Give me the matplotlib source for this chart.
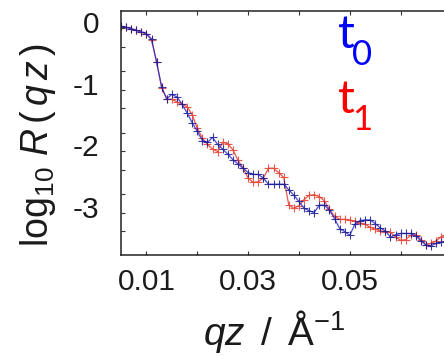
import numpy as np
import matplotlib
matplotlib.use('Agg')
import matplotlib.pyplot as plt
from matplotlib.transforms import ScaledTranslation

plt.rcParams['font.family'] = ['Liberation Sans', 'DejaVu Sans']
plt.rcParams['mathtext.fontset'] = 'custom'
plt.rcParams['mathtext.rm'] = 'Liberation Sans'
plt.rcParams['mathtext.it'] = 'Liberation Sans:italic'

# momentum transfer grid (1/A)
qz = np.round(np.arange(0.005, 0.0695, 0.001), 4)

# log10 reflectivity, first measurement
logR_t0 = [0.03, 0.01, -0.01, -0.04, -0.06, -0.09, -0.18, -0.55, -0.96, -1.15,
           -1.08, -1.12, -1.24, -1.38, -1.54, -1.68, -1.83, -1.86, -1.78, -1.89,
           -1.97, -2.05, -2.14, -2.21, -2.28, -2.35, -2.38, -2.38, -2.44, -2.54,
           -2.54, -2.54, -2.54, -2.63, -2.72, -2.82, -2.93, -2.97, -3.00, -2.88,
           -2.88, -2.96, -3.10, -3.26, -3.31, -3.37, -3.19, -3.13, -3.12, -3.12,
           -3.18, -3.25, -3.30, -3.40, -3.36, -3.34, -3.34, -3.34, -3.38, -3.46,
           -3.53, -3.54, -3.50, -3.48, -3.47]

# log10 reflectivity, second measurement
logR_t1 = [0.02, 0.01, -0.01, -0.04, -0.07, -0.10, -0.19, -0.56, -0.97, -1.16,
           -1.16, -1.20, -1.24, -1.28, -1.41, -1.63, -1.79, -1.89, -1.97, -2.01,
           -1.86, -1.88, -1.98, -2.15, -2.28, -2.44, -2.51, -2.50, -2.44, -2.28,
           -2.28, -2.35, -2.43, -2.88, -2.93, -2.89, -2.79, -2.72, -2.71, -2.74,
           -2.81, -2.95, -3.06, -3.11, -3.11, -3.12, -3.14, -3.17, -3.19, -3.24,
           -3.27, -3.30, -3.31, -3.32, -3.40, -3.45, -3.44, -3.37, -3.36, -3.44,
           -3.52, -3.50, -3.46, -3.39, -3.37]

x_ticks = [0.01, 0.02, 0.03, 0.04, 0.05, 0.06]
x_ticklabels = ['0.01', '', '0.03', '', '0.05', '']
y_ticks = [0, -1, -2, -3]

fig = plt.figure(figsize=(4.44, 3.56), dpi=100)
ax = fig.add_axes([121 / 444, 101 / 356, 330.5 / 444, 244 / 356])

ax.plot(qz, logR_t1, color='#e5483a', lw=0.9, marker='+', ms=5.5, mew=0.8, alpha=0.9)
ax.plot(qz, logR_t0, color='#2c2cd0', lw=0.9, marker='+', ms=5.5, mew=0.8,
        mec='#1a1a90', alpha=0.85)

ax.set_xlim(0.005, 0.07)
ax.set_ylim(-3.69, 0.276)

ax.set_xticks(x_ticks)
ax.set_xticklabels(x_ticklabels)
ax.set_yticks(y_ticks)
ax.set_yticklabels([str(v) for v in y_ticks])
minor = [d + np.log10(m) for d in range(-4, 1) for m in (2, 5)]
ax.set_yticks([m for m in minor if -3.69 < m < 0.27], minor=True)

ax.tick_params(axis='both', which='both', direction='in', length=3, width=0.8,
               color='#333333', top=True, right=True, labelsize=21.5,
               labelcolor='#1a1a1a')
ax.tick_params(axis='x', pad=9.4)
ax.tick_params(axis='y', pad=15.8)
for lab in ax.get_yticklabels():
    lab.set_transform(lab.get_transform() + ScaledTranslation(0, 6 / 100, fig.dpi_scale_trans))

for sp in ax.spines.values():
    sp.set_linewidth(1.1)
    sp.set_color('#222222')

ax.set_xlabel(r'$qz\,$ / $\,$Å$^{-1}$', fontsize=28, color='#1a1a1a')
ax.xaxis.label.set_va('baseline')
ax.xaxis.set_label_coords(0.463, -0.369)

ax.set_ylabel(r'log$_{10}$ $R\,(\,q\,z\,)$', fontsize=27, color='#1a1a1a')
ax.yaxis.label.set_va('baseline')
ax.yaxis.set_label_coords(-0.221, 0.451)

# time labels
fig.text(338 / 444, 1 - 48 / 356, 't', color='#0000ff', fontsize=34,
         family='Lato', va='baseline', ha='left')
fig.text(352 / 444, 1 - 65 / 356, '0', color='#0000ff', fontsize=25,
         family='Lato', va='baseline', ha='left')
fig.text(338 / 444, 1 - 113 / 356, 't', color='#ff0000', fontsize=34,
         family='Lato', va='baseline', ha='left')
fig.text(352 / 444, 1 - 130 / 356, '1', color='#ff0000', fontsize=25,
         family='Lato', va='baseline', ha='left')

fig.savefig('out.png', dpi=100)
